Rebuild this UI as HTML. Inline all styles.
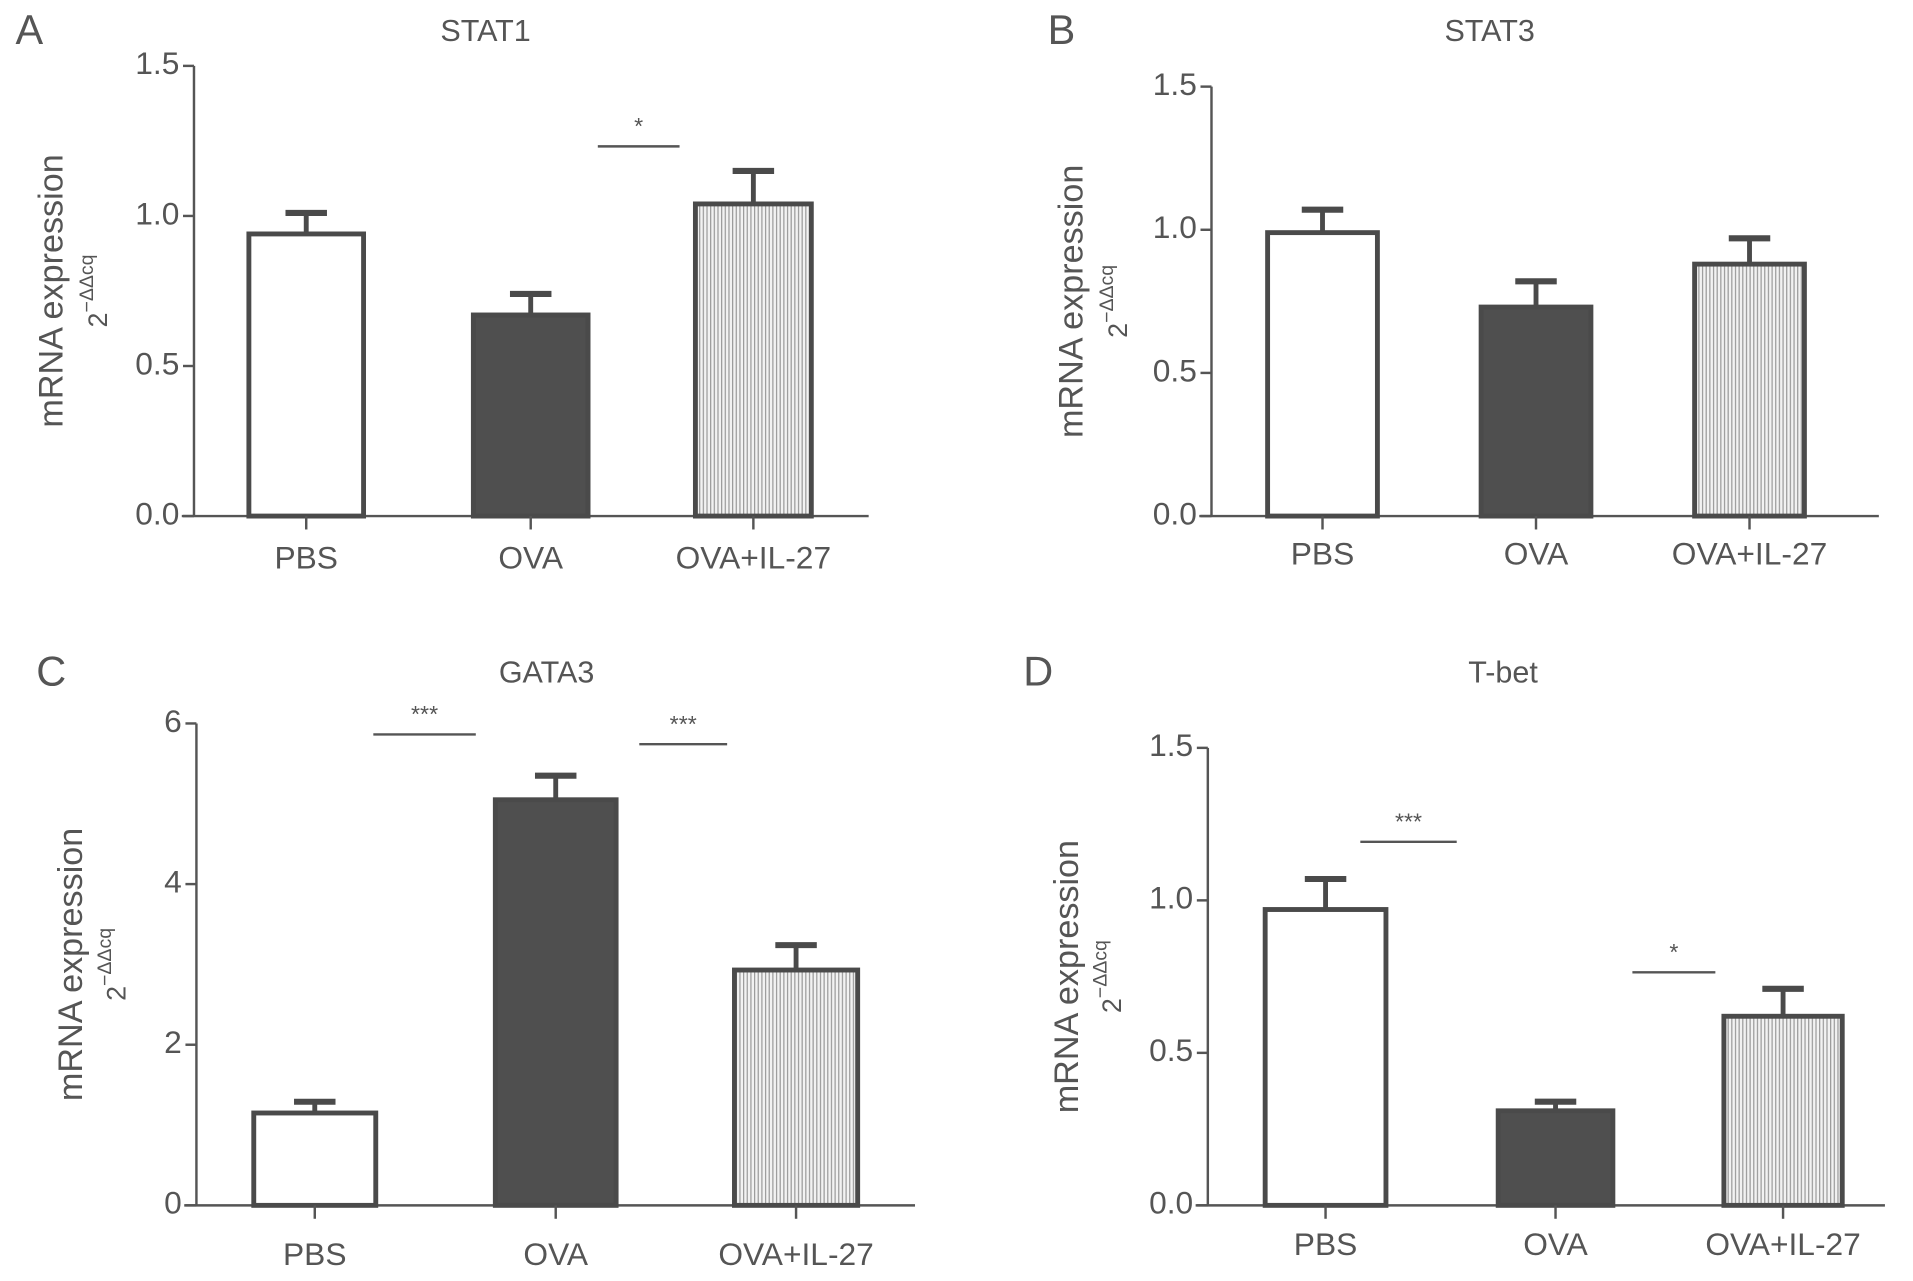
<!DOCTYPE html>
<html><head><meta charset="utf-8"><style>
html,body{margin:0;padding:0;background:#fff;}
svg{display:block;}
text{font-family:"Liberation Sans",sans-serif;fill:#555;}
</style></head><body>
<svg id="chart" width="1913" height="1281" viewBox="0 0 1568 1050" preserveAspectRatio="none" xmlns="http://www.w3.org/2000/svg">
<defs>
<pattern id="hatch" width="3" height="10" patternUnits="userSpaceOnUse">
<rect width="3" height="10" fill="#f2f2f2"/><rect width="1" height="10" fill="#9a9a9a"/>
</pattern>
</defs>
</svg>
<script>
const categories = ["PBS","OVA","OVA+IL-27"];
const stat1Values = [0.94, 0.67, 1.04];
const stat1Errors = [1.01, 0.74, 1.15];
const stat3Values = [0.99, 0.73, 0.88];
const stat3Errors = [1.07, 0.82, 0.97];
const gata3Values = [1.15, 5.05, 2.93];
const gata3Errors = [1.29, 5.35, 3.24];
const tbetValues = [0.97, 0.31, 0.62];
const tbetErrors = [1.07, 0.34, 0.71];
const ticks15 = ["0.0","0.5","1.0","1.5"];
const ticks6 = ["0","2","4","6"];

const svg = document.getElementById('chart');
const NS = "http://www.w3.org/2000/svg";
function mk(tag, attrs, parent){
  const e = document.createElementNS(NS, tag);
  for (const k in attrs) e.setAttribute(k, attrs[k]);
  (parent||svg).appendChild(e);
  return e;
}
const panels = [
 {letter:"A", title:"STAT1", vals:stat1Values, errs:stat1Errors, ticks:ticks15, max:1.5,
  ax:159, y0:423, ytop:54, xend:712, bars:[[204,298],[388,482],[570,665]], lx:24, ly:27, tx:398, ylx:44, y2x:82, lbly:459,
  sig:[[490,557,120,"*"]]},
 {letter:"B", title:"STAT3", vals:stat3Values, errs:stat3Errors, ticks:ticks15, max:1.5,
  ax:993, y0:423, ytop:71, xend:1540, bars:[[1039,1129],[1214,1304],[1389,1479]], lx:870, ly:27, tx:1221, ylx:880, y2x:918, lbly:456,
  sig:[]},
 {letter:"C", title:"GATA3", vals:gata3Values, errs:gata3Errors, ticks:ticks6, max:6,
  ax:161, y0:988, ytop:593, xend:750, bars:[[208,308],[406,505],[602,703]], lx:42, ly:553, tx:448, ylx:60, y2x:97, lbly:1030,
  sig:[[306,390,602,"***"],[524,596,610,"***"]]},
 {letter:"D", title:"T-bet", vals:tbetValues, errs:tbetErrors, ticks:ticks15, max:1.5,
  ax:990, y0:988, ytop:613, xend:1545, bars:[[1037,1136],[1228,1322],[1413,1510]], lx:851, ly:553, tx:1232, ylx:876, y2x:913, lbly:1022,
  sig:[[1115,1194,690,"***"],[1338,1406,797,"*"]]}
];
const fills = ["#fff","#4f4f4f","url(#hatch)"];
panels.forEach(p=>{
  const g = mk('g',{});
  
  
  const yS = v => p.y0 - (v/p.max)*(p.y0-p.ytop);
  const L = mk('text',{x:p.lx,y:p.ly,'font-size':34,'text-anchor':'middle','dominant-baseline':'middle'},g);
  L.textContent = p.letter;
  
  
  const T = mk('text',{x:p.tx,y:p.ly,'font-size':25,'text-anchor':'middle','dominant-baseline':'middle'},g);
  T.textContent = p.title;
  
  
  const yc = (p.y0+p.ytop)/2;
  const YL = mk('text',{x:p.ylx,y:yc,'font-size':28,'text-anchor':'middle','dominant-baseline':'middle',transform:`rotate(-90 ${p.ylx} ${yc})`},g);
  YL.textContent = "mRNA expression";
  
  
  const Y2 = mk('text',{x:p.y2x,y:yc,'font-size':22,'text-anchor':'middle','dominant-baseline':'middle',transform:`rotate(-90 ${p.y2x} ${yc})`},g);
  Y2.innerHTML = '2<tspan font-size="16" dy="-10">−ΔΔcq</tspan>';
  
  
  const ya = mk('line',{x1:p.ax,y1:p.ytop,x2:p.ax,y2:p.y0,stroke:'#555','stroke-width':2},g);
  
  
  const xa = mk('line',{x1:p.ax-10,y1:p.y0,x2:p.xend,y2:p.y0,stroke:'#555','stroke-width':2},g);
  
  
  p.ticks.forEach(t=>{
    const y = yS(parseFloat(t));
    mk('line',{x1:p.ax-9,y1:y,x2:p.ax,y2:y,stroke:'#555','stroke-width':2},g);
    const tl = mk('text',{x:p.ax-12,y:y,'font-size':26,'text-anchor':'end','dominant-baseline':'middle'},g);
    tl.textContent = t;
    
    
  });
  categories.forEach((c,i)=>{
    const [x1,x2] = p.bars[i];
    const cx = (x1+x2)/2;
    const top = yS(p.vals[i]);
    const eb = mk('line',{x1:cx,y1:top,x2:cx,y2:yS(p.errs[i]),stroke:'#4a4a4a','stroke-width':4},g);
    
    
    const cap = mk('line',{x1:cx-17,y1:yS(p.errs[i]),x2:cx+17,y2:yS(p.errs[i]),stroke:'#4a4a4a','stroke-width':5},g);
    
    
    const r = mk('rect',{x:x1,y:top,width:x2-x1,height:p.y0-top,fill:fills[i],stroke:'#4a4a4a','stroke-width':4},g);
    
    
    mk('line',{x1:cx,y1:p.y0,x2:cx,y2:p.y0+11,stroke:'#555','stroke-width':2},g);
    const xl = mk('text',{x:cx,y:p.lbly,'font-size':26,'text-anchor':'middle','dominant-baseline':'middle'},g);
    xl.textContent = c;
    
    
  });
  p.sig.forEach(s=>{
    const sl = mk('line',{x1:s[0],y1:s[2],x2:s[1],y2:s[2],stroke:'#555','stroke-width':2},g);
    
    
    const st = mk('text',{x:(s[0]+s[1])/2,y:s[2]-10,'font-size':19,'text-anchor':'middle'},g);
    st.textContent = s[3];
    
    
  });
});
</script>
</body></html>
